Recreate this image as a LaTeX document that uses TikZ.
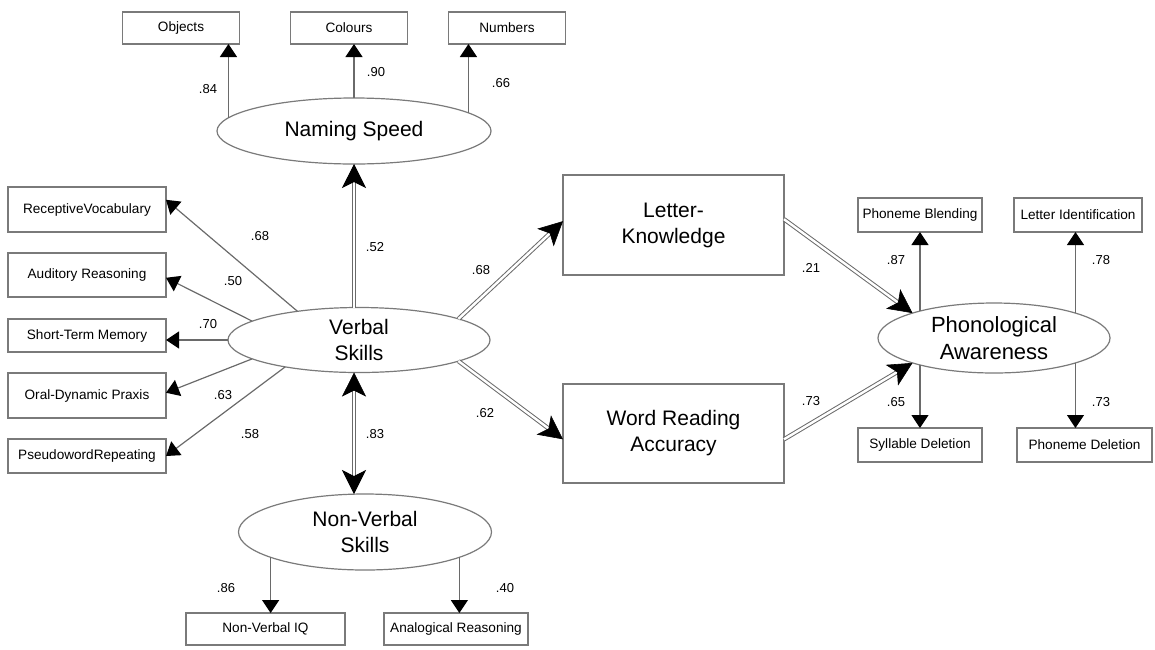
\documentclass[tikz,border=0pt]{standalone}
\usepackage{fontspec}
\setmainfont{Liberation Sans}
\usetikzlibrary{shapes.geometric,arrows.meta,calc}
\definecolor{boxgray}{HTML}{7A7A7A}
\definecolor{linegray}{HTML}{6A6A6A}
\tikzset{
  sbox/.style={draw=boxgray, line width=0.6pt, fill=white, font=\fontsize{6.8}{8}\selectfont, inner sep=0pt, outer sep=0pt},
  bbox/.style={draw=boxgray, line width=0.6pt, fill=white, font=\fontsize{10.5}{13}\selectfont, align=center, inner sep=0pt, outer sep=0pt},
  lat/.style={ellipse, draw=boxgray, line width=0.6pt, fill=white, font=\fontsize{10.5}{13}\selectfont, align=center, inner sep=0pt, outer sep=0pt},
  load/.style={draw=linegray, line width=0.6pt, -{Triangle[length=6.5pt,width=8.5pt,color=black]}},
  dbl/.style={draw=linegray, line width=0.5pt, double=white, double distance=1.2pt},
  bigtip/.style={draw=white, line width=0.3pt, -{Stealth[length=12pt,width=12pt,inset=3pt,color=black]}},
  coef/.style={font=\fontsize{6.5}{8}\selectfont, inner sep=0pt}
}
\begin{document}
\begin{tikzpicture}[x=0.5pt,y=-0.5pt]
\useasboundingbox (0,0) rectangle (1155,649);
% top boxes
\node[sbox, minimum width=58.5pt, minimum height=16pt] (obj) at (181,28) {Objects};
\node[sbox, minimum width=58.5pt, minimum height=16pt] (col) at (349,28) {Colours};
\node[sbox, minimum width=58.5pt, minimum height=16pt] (num) at (507,28) {Numbers};
% left boxes
\node[sbox, minimum width=79pt, minimum height=22.5pt] (rv) at (87,209.5) {ReceptiveVocabulary};
\node[sbox, minimum width=79pt, minimum height=22pt] (ar) at (87,275) {Auditory Reasoning};
\node[sbox, minimum width=79pt, minimum height=16.5pt] (stm) at (87,335.5) {Short-Term Memory};
\node[sbox, minimum width=79pt, minimum height=22.5pt] (odp) at (87,395.5) {Oral-Dynamic Praxis};
\node[sbox, minimum width=79pt, minimum height=17pt] (pr) at (87,456) {PseudowordRepeating};
% bottom boxes
\node[sbox, minimum width=79.5pt, minimum height=16pt] (nviq) at (265.5,629) {Non-Verbal IQ};
\node[sbox, minimum width=72pt, minimum height=16pt] (anr) at (456,629) {Analogical Reasoning};
% right boxes
\node[sbox, minimum width=62pt, minimum height=17pt] (pb) at (920,215) {Phoneme Blending};
\node[sbox, minimum width=64pt, minimum height=17pt] (li) at (1078,215) {Letter Identification};
\node[sbox, minimum width=62pt, minimum height=17pt] (sd) at (920,445) {Syllable Deletion};
\node[sbox, minimum width=67.5pt, minimum height=17pt] (pd) at (1084.5,445) {Phoneme Deletion};
% middle boxes
\node[bbox, minimum width=110.5pt, minimum height=50pt] (lk) at (673.5,225) {Letter-\\Knowledge};
\node[bbox, minimum width=110.5pt, minimum height=49.5pt] (wr) at (673.5,433.5) {Word Reading\\Accuracy};
% latent variables
\node[lat, minimum width=137pt, minimum height=33pt] (ns) at (354,131) {Naming Speed};
\node[lat, minimum width=131pt, minimum height=32.5pt] (v) at (359,340) {Verbal\\Skills};
\node[lat, minimum width=126.5pt, minimum height=38pt] (nv) at (365,532) {Non-Verbal\\Skills};
\node[lat, minimum width=116pt, minimum height=35pt, font=\fontsize{11}{13.5}\selectfont] (pa) at (994,338) {Phonological\\Awareness};
% Naming speed loadings
\draw[load] (ns.174) -- (ns.174 |- obj.south);
\draw[load] (ns.north) -- (ns.north |- col.south);
\draw[load] (ns.9) -- (ns.9 |- num.south);
% Verbal loadings
\draw[load] (v.155) -- (rv.7);
\draw[load] (v.170) -- (ar.-2);
\draw[load] (v.west) -- (v.west -| stm.east);
\draw[load] (v.190) -- (odp.2);
\draw[load] (v.200) -- (pr.east);
% Non-verbal loadings
\draw[load] (nv.195) -- (nv.195 |- nviq.north);
\draw[load] (nv.-15) -- (nv.-15 |- anr.north);
% Phonological loadings
\draw[load] (pa.160) -- (pa.160 |- pb.south);
\draw[load] (pa.17) -- (pa.17 |- li.south);
\draw[load] (pa.200) -- (pa.200 |- sd.north);
\draw[load] (pa.-17) -- (pa.-17 |- pd.north);
% structural paths (double lines)
\draw[dbl, shorten >=9pt] (ns.south |- v.north) -- (ns.south);
\draw[bigtip] ($(ns.south)!24pt!(ns.south |- v.north)$) -- (ns.south);
\draw[dbl, shorten >=9pt, shorten <=9pt] (ns.south |- v.south) -- (ns.south |- nv.north);
\draw[bigtip] ($(ns.south |- nv.north)!24pt!(ns.south |- v.south)$) -- (ns.south |- nv.north);
\draw[bigtip] ($(ns.south |- v.south)!24pt!(ns.south |- nv.north)$) -- (ns.south |- v.south);
\draw[dbl, shorten >=9pt] (v.12) -- (lk.178);
\draw[bigtip] ($(lk.178)!24pt!(v.12)$) -- (lk.178);
\draw[dbl, shorten >=9pt] (v.-12) -- (wr.183);
\draw[bigtip] ($(wr.183)!24pt!(v.-12)$) -- (wr.183);
\draw[dbl, shorten >=9pt] (lk.3) -- (pa.163);
\draw[bigtip] ($(pa.163)!24pt!(lk.3)$) -- (pa.163);
\draw[dbl, shorten >=9pt] (wr.-3) -- (pa.197);
\draw[bigtip] ($(pa.197)!24pt!(wr.-3)$) -- (pa.197);
% coefficients
\node[coef] (c1) at (208,89) {.84};
\node[coef] (c2) at (376,72) {.90};
\node[coef] (c3) at (501,83) {.66};
\node[coef] (c4) at (260,236) {.68};
\node[coef] (c5) at (375,247) {.52};
\node[coef] (c6) at (233,281) {.50};
\node[coef] (c7) at (208,324) {.70};
\node[coef] (c8) at (223,395) {.63};
\node[coef] (c9) at (250,434) {.58};
\node[coef] (c10) at (375,434) {.83};
\node[coef] (c11) at (226,588) {.86};
\node[coef] (c12) at (505,588) {.40};
\node[coef] (c13) at (481,270) {.68};
\node[coef] (c14) at (485,413) {.62};
\node[coef] (c15) at (811,268) {.21};
\node[coef] (c16) at (811,401) {.73};
\node[coef] (c17) at (896,260) {.87};
\node[coef] (c18) at (1101,260) {.78};
\node[coef] (c19) at (896,402) {.65};
\node[coef] (c20) at (1101,402) {.73};
\end{tikzpicture}
\end{document}
